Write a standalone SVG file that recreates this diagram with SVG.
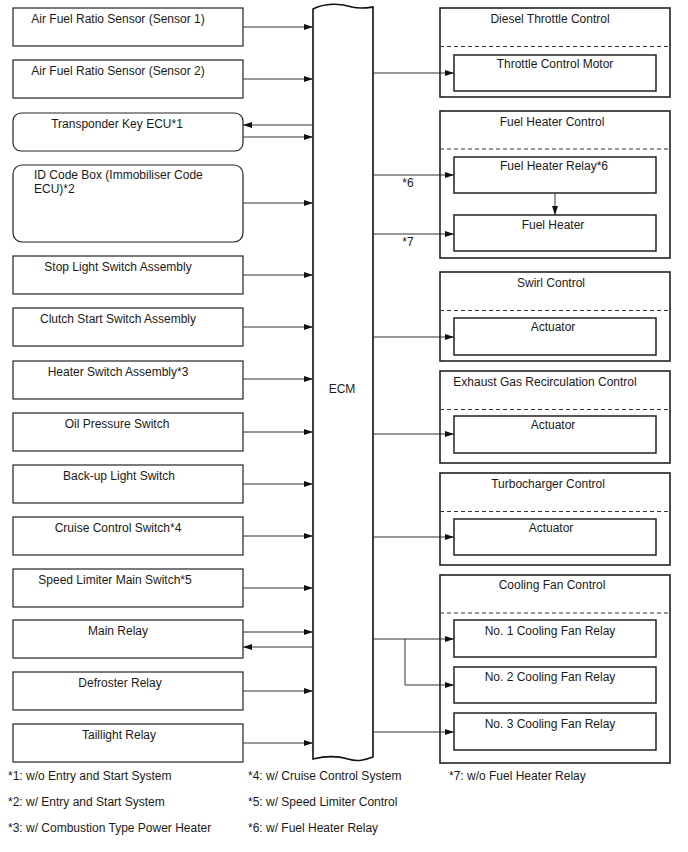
<svg xmlns="http://www.w3.org/2000/svg" width="688" height="852" viewBox="0 0 688 852">
<style>
text{font-family:"Liberation Sans",Arial,sans-serif;font-size:12px;fill:#1a1a1a}
.c{text-anchor:middle}
.box{fill:#fff;stroke:#222;stroke-width:1.2}
.grp{fill:#fff;stroke:#222;stroke-width:1.6}
.inner{fill:#fff;stroke:#222;stroke-width:1.5}
.dash{stroke:#333;stroke-width:1;stroke-dasharray:4,3;fill:none}
.wire{stroke:#333;stroke-width:1;fill:none}
</style>
<defs>
<marker id="ah" markerUnits="userSpaceOnUse" markerWidth="10" markerHeight="6" refX="9" refY="3" orient="auto">
<path d="M0,0 L9,3 L0,6 z" fill="#111"/>
</marker>
</defs>
<rect width="688" height="852" fill="#fff"/>

<g id="ecm">
<path d="M313,9 C325,3 340,3 352,7 C360,9 366,8 373,7 L373,757 C365,760 358,762 348,759 C338,756 325,756 313,759 Z" fill="#fff" stroke="#111" stroke-width="1.6"/>
<text x="342" y="393" class="c">ECM</text>
</g>

<g id="n1"><rect class="box" x="13" y="8" width="230" height="38"/><text x="118" y="23" class="c">Air Fuel Ratio Sensor (Sensor 1)</text></g>
<g id="n2"><rect class="box" x="13" y="60" width="230" height="38"/><text x="118" y="75" class="c">Air Fuel Ratio Sensor (Sensor 2)</text></g>
<g id="n3"><rect class="box" x="13" y="113" width="230" height="38" rx="8"/><text x="117" y="128" class="c">Transponder Key ECU*1</text></g>
<g id="n4"><rect class="box" x="13" y="165" width="230" height="77" rx="9"/><text x="34" y="179">ID Code Box (Immobiliser Code</text><text x="34" y="193">ECU)*2</text></g>
<g id="n5"><rect class="box" x="13" y="256" width="230" height="38"/><text x="118" y="271" class="c">Stop Light Switch Assembly</text></g>
<g id="n6"><rect class="box" x="13" y="308" width="230" height="38"/><text x="118" y="323" class="c">Clutch Start Switch Assembly</text></g>
<g id="n7"><rect class="box" x="13" y="361" width="230" height="38"/><text x="118" y="376" class="c">Heater Switch Assembly*3</text></g>
<g id="n8"><rect class="box" x="13" y="413" width="230" height="38"/><text x="117" y="428" class="c">Oil Pressure Switch</text></g>
<g id="n9"><rect class="box" x="13" y="465" width="230" height="38"/><text x="119" y="480" class="c">Back-up Light Switch</text></g>
<g id="n10"><rect class="box" x="13" y="517" width="230" height="38"/><text x="118" y="532" class="c">Cruise Control Switch*4</text></g>
<g id="n11"><rect class="box" x="13" y="569" width="230" height="38"/><text x="115" y="584" class="c">Speed Limiter Main Switch*5</text></g>
<g id="n12"><rect class="box" x="13" y="620" width="230" height="38"/><text x="118" y="635" class="c">Main Relay</text></g>
<g id="n13"><rect class="box" x="13" y="672" width="230" height="38"/><text x="120" y="687" class="c">Defroster Relay</text></g>
<g id="n14"><rect class="box" x="13" y="724" width="230" height="38"/><text x="119" y="739" class="c">Taillight Relay</text></g>

<g id="g-throttle"><rect class="grp" x="440" y="8" width="230" height="89"/><text x="550" y="23" class="c">Diesel Throttle Control</text><line class="dash" x1="440" y1="46.5" x2="670" y2="46.5"/>
<g id="throttle-motor"><rect class="inner" x="454" y="55" width="202" height="36"/><text x="555" y="68" class="c">Throttle Control Motor</text></g></g>

<g id="g-fuelheater"><rect class="grp" x="440" y="111" width="230" height="147"/><text x="552" y="126" class="c">Fuel Heater Control</text><line class="dash" x1="440" y1="149" x2="670" y2="149"/>
<g id="fh-relay"><rect class="inner" x="454" y="157" width="202" height="36"/><text x="554" y="170" class="c">Fuel Heater Relay*6</text></g>
<g id="fh"><rect class="inner" x="454" y="215" width="202" height="36"/><text x="553" y="229" class="c">Fuel Heater</text></g></g>

<g id="g-swirl"><rect class="grp" x="440" y="272" width="230" height="89"/><text x="551" y="287" class="c">Swirl Control</text><line class="dash" x1="440" y1="310.5" x2="670" y2="310.5"/>
<g id="swirl-act"><rect class="inner" x="454" y="318" width="202" height="37" stroke-width="2"/><text x="553" y="331" class="c">Actuator</text></g></g>

<g id="g-egr"><rect class="grp" x="440" y="371" width="230" height="92"/><text x="545" y="386" class="c">Exhaust Gas Recirculation Control</text><line class="dash" x1="440" y1="409.5" x2="670" y2="409.5"/>
<g id="egr-act"><rect class="inner" x="454" y="416" width="202" height="37"/><text x="553" y="429" class="c">Actuator</text></g></g>

<g id="g-turbo"><rect class="grp" x="440" y="473" width="230" height="92"/><text x="548" y="488" class="c">Turbocharger Control</text><line class="dash" x1="440" y1="511.5" x2="670" y2="511.5"/>
<g id="turbo-act"><rect class="inner" x="454" y="519" width="202" height="36"/><text x="551" y="532" class="c">Actuator</text></g></g>

<g id="g-fan"><rect class="grp" x="440" y="575" width="230" height="188"/><text x="552" y="589" class="c">Cooling Fan Control</text><line class="dash" x1="440" y1="613" x2="670" y2="613"/>
<g id="fan1"><rect class="inner" x="454" y="620" width="202" height="37"/><text x="550" y="635" class="c">No. 1 Cooling Fan Relay</text></g>
<g id="fan2"><rect class="inner" x="454" y="667" width="202" height="36"/><text x="550" y="681" class="c">No. 2 Cooling Fan Relay</text></g>
<g id="fan3"><rect class="inner" x="454" y="713" width="202" height="37"/><text x="550" y="728" class="c">No. 3 Cooling Fan Relay</text></g></g>

<g id="connectors">
<line class="wire" x1="243" y1="27" x2="313" y2="27" marker-end="url(#ah)"/>
<line class="wire" x1="243" y1="79" x2="313" y2="79" marker-end="url(#ah)"/>
<line class="wire" x1="313" y1="125" x2="243" y2="125" marker-end="url(#ah)"/>
<line class="wire" x1="243" y1="137" x2="313" y2="137" marker-end="url(#ah)"/>
<line class="wire" x1="243" y1="203" x2="313" y2="203" marker-end="url(#ah)"/>
<line class="wire" x1="243" y1="275" x2="313" y2="275" marker-end="url(#ah)"/>
<line class="wire" x1="243" y1="327" x2="313" y2="327" marker-end="url(#ah)"/>
<line class="wire" x1="243" y1="379" x2="313" y2="379" marker-end="url(#ah)"/>
<line class="wire" x1="243" y1="432" x2="313" y2="432" marker-end="url(#ah)"/>
<line class="wire" x1="243" y1="484" x2="313" y2="484" marker-end="url(#ah)"/>
<line class="wire" x1="243" y1="536" x2="313" y2="536" marker-end="url(#ah)"/>
<line class="wire" x1="243" y1="588" x2="313" y2="588" marker-end="url(#ah)"/>
<line class="wire" x1="243" y1="632" x2="313" y2="632" marker-end="url(#ah)"/>
<line class="wire" x1="313" y1="647" x2="243" y2="647" marker-end="url(#ah)"/>
<line class="wire" x1="243" y1="691" x2="313" y2="691" marker-end="url(#ah)"/>
<line class="wire" x1="243" y1="743" x2="313" y2="743" marker-end="url(#ah)"/>

<line class="wire" x1="373" y1="73" x2="454" y2="73" marker-end="url(#ah)"/>
<line class="wire" x1="373" y1="175" x2="454" y2="175" marker-end="url(#ah)"/>
<text x="408" y="187" class="c">*6</text>
<line class="wire" x1="555" y1="193" x2="555" y2="215" marker-end="url(#ah)"/>
<line class="wire" x1="373" y1="234" x2="454" y2="234" marker-end="url(#ah)"/>
<text x="408" y="246" class="c">*7</text>
<line class="wire" x1="373" y1="337" x2="454" y2="337" marker-end="url(#ah)"/>
<line class="wire" x1="373" y1="434" x2="454" y2="434" marker-end="url(#ah)"/>
<line class="wire" x1="373" y1="537" x2="454" y2="537" marker-end="url(#ah)"/>
<line class="wire" x1="373" y1="639" x2="454" y2="639" marker-end="url(#ah)"/>
<polyline class="wire" points="405,639 405,685 454,685" marker-end="url(#ah)"/>
<line class="wire" x1="373" y1="732" x2="454" y2="732" marker-end="url(#ah)"/>
</g>

<g id="footnotes">
<text x="8" y="780">*1: w/o Entry and Start System</text>
<text x="8" y="806">*2: w/ Entry and Start System</text>
<text x="8" y="832">*3: w/ Combustion Type Power Heater</text>
<text x="248" y="780">*4: w/ Cruise Control System</text>
<text x="248" y="806">*5: w/ Speed Limiter Control</text>
<text x="248" y="832">*6: w/ Fuel Heater Relay</text>
<text x="449" y="780">*7: w/o Fuel Heater Relay</text>
</g>
</svg>
